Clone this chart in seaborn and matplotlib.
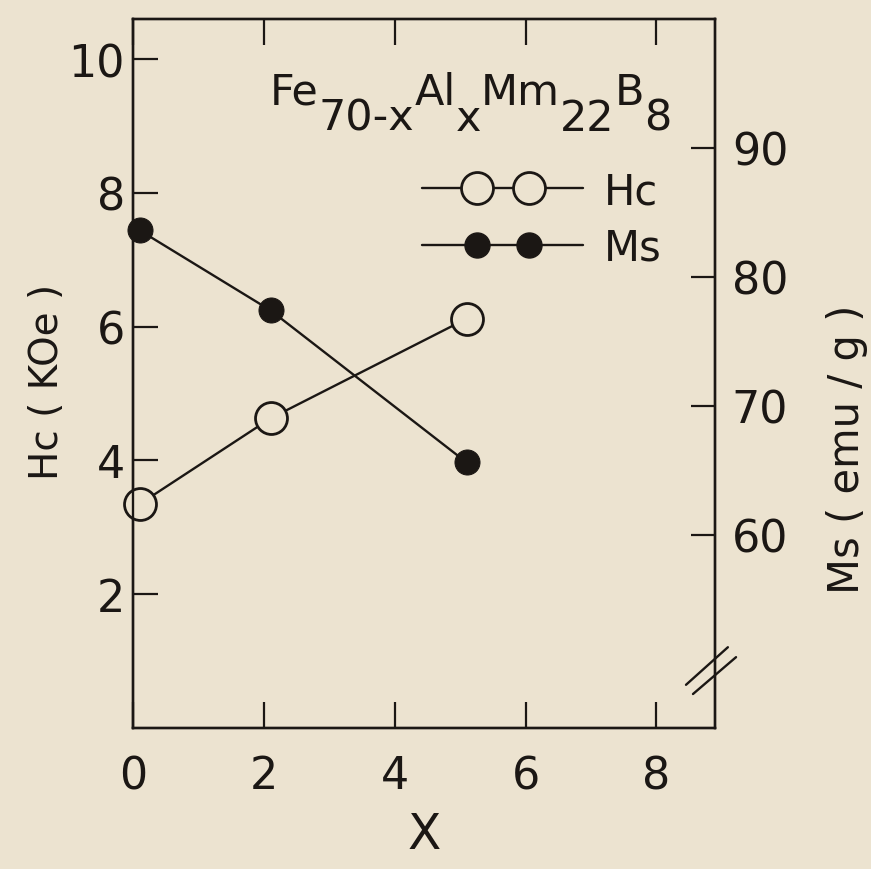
import numpy as np
import pandas as pd
import seaborn as sns
import matplotlib.pyplot as plt
from matplotlib.lines import Line2D
from matplotlib.legend_handler import HandlerLine2DCompound

# values
x_hc = [0.1, 2.1, 5.1]
hc = [3.35, 4.63, 6.12]        # Hc (KOe), left axis
x_ms = [0.1, 2.1, 5.1]
ms = [83.6, 77.4, 65.6]        # Ms (emu/g), right axis

left_ticks = [2, 4, 6, 8, 10]
right_ticks = [60, 70, 80, 90]
x_ticks = [0, 2, 4, 6, 8]

# formula pieces: (text, lowered?)
formula = [('Fe', False), ('70-x', True), ('Al', False), ('x', True),
           ('Mm', False), ('22', True), ('B', False), ('8', True)]

sns.set_theme(style="ticks")
plt.rcParams['font.family'] = ['DejaVu Sans']

bg = '#ece3d0'
ink = '#1b1714'
fs = 32


class PaddedLine(HandlerLine2DCompound):
    # full-width line, markers inset from both ends
    def get_xdata(self, legend, xdescent, ydescent, width, height, fontsize):
        xline = np.array([-xdescent, width - xdescent])
        pad = self._marker_pad * fontsize
        xmark = np.array([-xdescent + pad, width - xdescent - pad])
        return xline, xmark


fig = plt.figure(figsize=(8.71, 8.70), dpi=100, facecolor=bg)
ax = fig.add_axes([0.153, 0.162, 0.668, 0.815])
ax.set_facecolor(bg)
ax2 = ax.twinx()

df_hc = pd.DataFrame({'x': x_hc, 'Hc': hc})
df_ms = pd.DataFrame({'x': x_ms, 'Ms': ms})

sns.lineplot(data=df_hc, x='x', y='Hc', ax=ax, sort=False, color=ink, lw=1.7,
             marker='o', markersize=23, markerfacecolor=bg, markeredgecolor=ink,
             markeredgewidth=2.0, clip_on=False, zorder=3)
sns.lineplot(data=df_ms, x='x', y='Ms', ax=ax2, sort=False, color=ink, lw=1.7,
             marker='o', markersize=18, markerfacecolor=ink, markeredgecolor=ink,
             clip_on=False, zorder=3)

ax.set_xlim(0, 8.9)
ax.set_ylim(0, 10.6)
ax2.set_ylim(45, 100)

ax.set_xticks(x_ticks)
ax.set_yticks(left_ticks)
ax2.set_yticks(right_ticks)
ax.set_xticklabels([str(t) for t in x_ticks])
ax.set_yticklabels([str(t) for t in left_ticks])
ax2.set_yticklabels([str(t) for t in right_ticks])

ax.tick_params(axis='x', direction='in', length=19, width=1.6, color=ink,
               labelsize=fs, labelcolor=ink, pad=19, top=True)
ax.tick_params(axis='y', direction='in', length=18, width=1.6, color=ink,
               labelsize=fs, labelcolor=ink, pad=6)
ax2.tick_params(axis='y', direction='in', length=17, width=1.6, color=ink,
                labelsize=fs, labelcolor=ink, pad=12)

for a in (ax, ax2):
    for s in a.spines.values():
        s.set_color(ink)
        s.set_linewidth(1.7)

ax.set_xlabel('X', fontsize=35, color=ink, labelpad=9)
ax.set_ylabel('Hc ( KOe )', fontsize=28, color=ink)
ax2.set_ylabel('Ms ( emu / g )', fontsize=30, color=ink)
ax.yaxis.set_label_coords(-0.115, 0.49)
ax2.yaxis.set_label_coords(1.19, 0.395)

# formula label, subscripts kept at full size and dropped below the baseline
prev = ax.text(0.235, 0.868, formula[0][0], transform=ax.transAxes,
               ha='left', va='bottom', fontsize=fs - 1, color=ink)
low = False
for piece, sub in formula[1:]:
    dy = 0
    if sub and not low:
        dy = -19
    elif low and not sub:
        dy = 19
    low = sub
    prev = ax.annotate(piece, xy=(1, 0), xycoords=prev, xytext=(0, dy),
                       textcoords='offset points', ha='left', va='bottom',
                       fontsize=fs - 1, color=ink)

# axis break marks on the right spine
for x0, y0, x1, y1 in [(0.950, 0.061, 1.022, 0.114), (0.962, 0.048, 1.036, 0.100)]:
    ax.plot([x0, x1], [y0, y1], transform=ax.transAxes, color=ink, lw=1.7,
            clip_on=False)

h_hc = Line2D([], [], color=ink, lw=1.7, marker='o', markersize=23,
              markerfacecolor=bg, markeredgecolor=ink, markeredgewidth=2.0)
h_ms = Line2D([], [], color=ink, lw=1.7, marker='o', markersize=18,
              markerfacecolor=ink, markeredgecolor=ink)
ax2.legend([h_hc, h_ms], ['Hc', 'Ms'], loc='upper left', bbox_to_anchor=(0.497, 0.787),
           frameon=False, fontsize=30, numpoints=2, handlelength=3.85,
           handletextpad=0.5, labelspacing=0.34, borderpad=0, borderaxespad=0,
           labelcolor=ink, handler_map={Line2D: PaddedLine(marker_pad=1.3)})

fig.savefig('out.png', dpi=100, facecolor=bg)
